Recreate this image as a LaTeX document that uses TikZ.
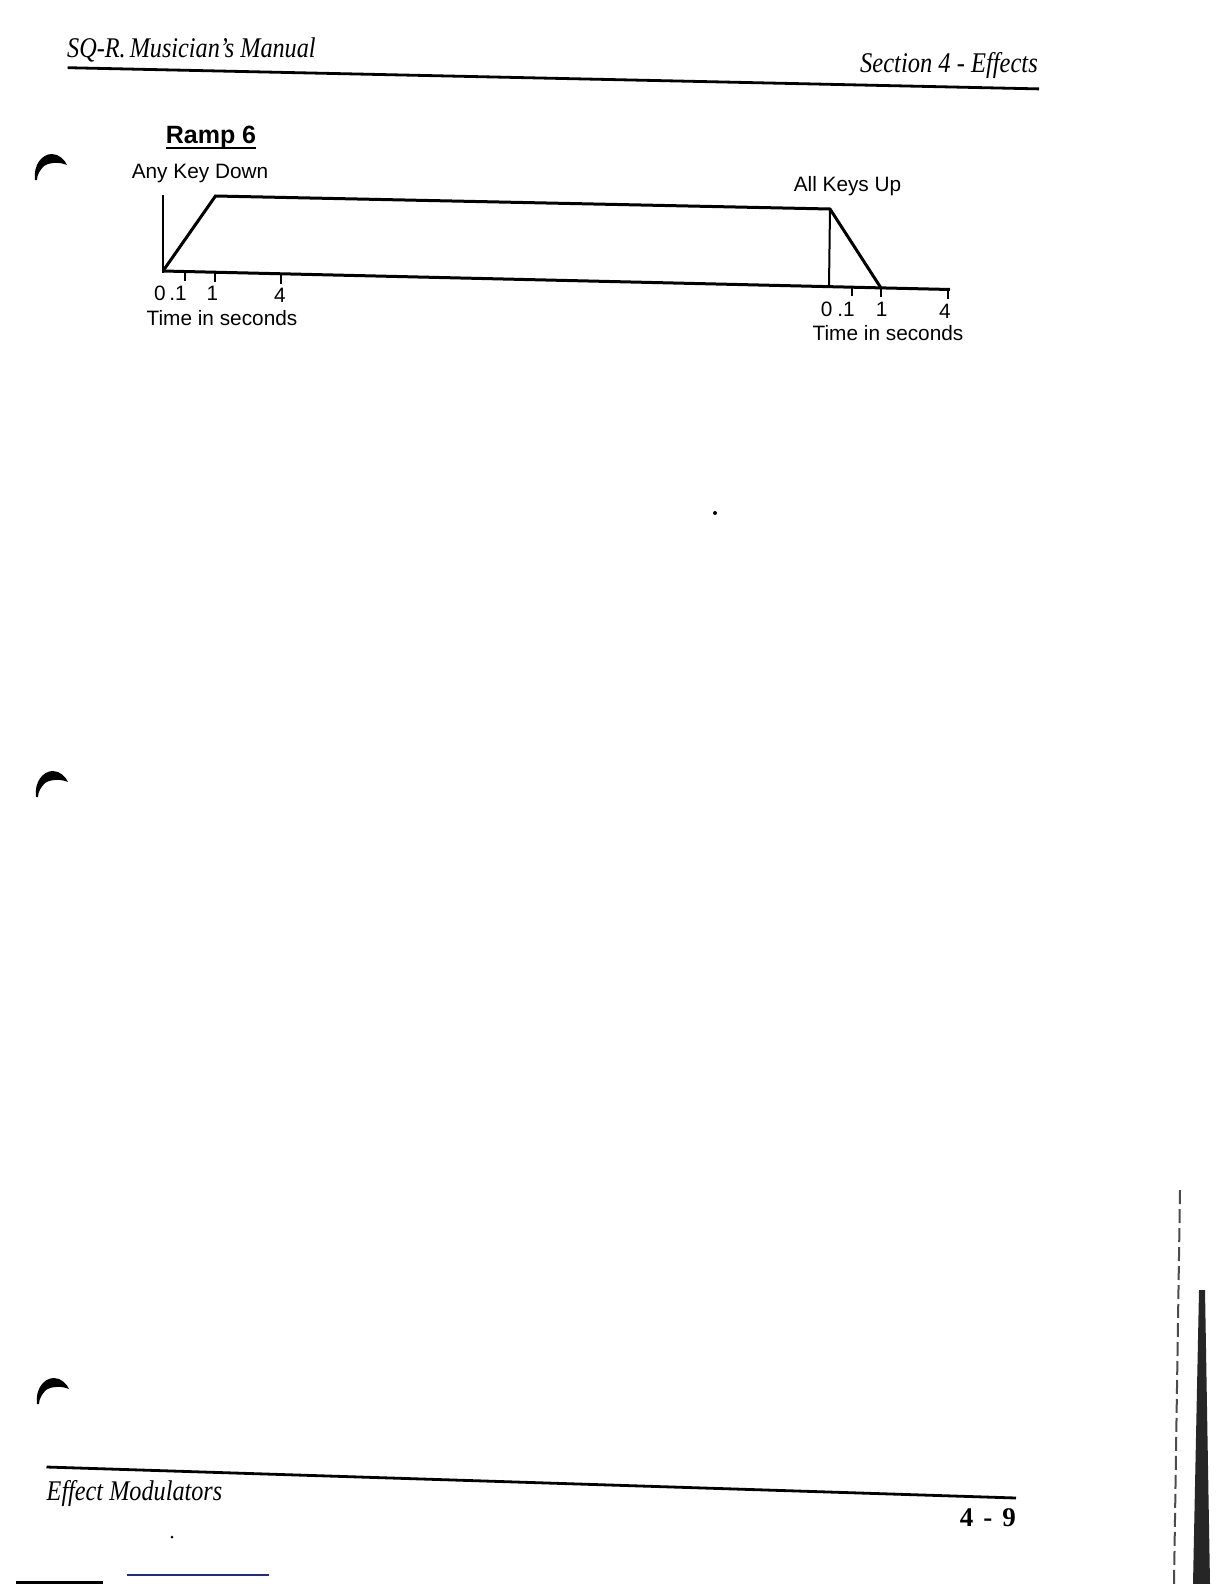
\documentclass[tikz,border=0pt]{standalone}
\usepackage{fontspec}
\setmainfont{Liberation Serif}
\newfontfamily\diagfont{Liberation Sans}
\definecolor{scanblue}{RGB}{35,40,140}
\begin{document}
\begin{tikzpicture}[x=1pt,y=-1pt,
  curve/.style={line width=3pt, line join=miter, line cap=butt},
  vline/.style={line width=2pt},
  tickmark/.style={line width=2pt},
  rule/.style={line width=2.8pt},
  lbl/.style={font=\diagfont\fontsize{20.8}{24}\selectfont, anchor=base, inner sep=0pt},
  hdr/.style={font=\fontsize{28.5}{32}\selectfont\itshape, anchor=base west, inner sep=0pt},
  crescent/.pic={\fill[black] (0,0) .. controls (-2,-15) and (7,-26) .. (17,-26)
      .. controls (24,-26) and (30,-20) .. (32,-15)
      .. controls (25,-18) and (15,-18) .. (9,-14)
      .. controls (5,-10) and (2,-5) .. (2,0) -- cycle;}]
\useasboundingbox (0,0) rectangle (1224,1584);
\fill[white] (0,0) rectangle (1224,1584);

% header
\node[hdr] (title) at (67,57.6) {\scalebox{0.85}[1]{SQ-R.\,Musician's Manual}};
\node[hdr, anchor=base east] (section) at (1038,73) {\scalebox{0.86}[1]{Section 4 - Effects}};
\coordinate (hl1) at (67.7,67.7);
\coordinate (hl2) at (1039,88.9);
\draw[rule] (hl1) -- (hl2);

% footer
\coordinate (fl1) at (46.5,1467);
\coordinate (fl2) at (1016,1498);
\draw[rule] (fl1) -- (fl2);
\node[hdr] (foot) at (46.5,1500) {\scalebox{0.85}[1]{Effect Modulators}};
\node[anchor=base east, inner sep=0pt, font=\bfseries\fontsize{27}{30}\selectfont] (page) at (1016,1526) {4\hspace{10pt}-\hspace{10pt}9};

% diagram title
\node[lbl, font=\diagfont\bfseries\fontsize{25}{28}\selectfont] (ramp) at (211,143.3) {Ramp 6};
\draw[line width=2pt] ([yshift=-4.5pt]ramp.base west) -- ([yshift=-4.5pt]ramp.base east);
\node[lbl] (anykey) at (200,178.3) {Any Key Down};
\node[lbl] (allkeys) at (847.5,191.7) {All Keys Up};

% envelope
\coordinate (o1) at (163,271);
\coordinate (vtop) at (163,195);
\coordinate (peak) at (215.5,196);
\coordinate (rel) at (830,209);
\coordinate (rbase) at (829,286.7);
\coordinate (rend) at (881,288);
\coordinate (bend) at (950,289.5);
\draw[curve] (o1) -- (bend);
\draw[vline] (vtop) -- ([yshift=-2pt]o1);
\draw[vline] (rel) -- (rbase);
\draw[curve] (o1) -- (peak) -- (rel) -- (rend);

% ticks
\foreach \n/\tx/\ty/\tl in {a/185/271.5/9, b/215/272.2/10, c/281/273.8/10,
                             d/851.5/287.2/9, e/881/287.9/9, f/947.5/289.4/10}{
  \coordinate (tk\n) at (\tx,\ty);
  \draw[tickmark] (tk\n) -- ++(0,\tl);
}

% axis labels
\node[lbl] (l0) at (160,300) {0};
\node[lbl] (l01) at (178,300) {.1};
\node[lbl] (l1) at (212.3,300.7) {1};
\node[lbl] (l4) at (280,302.7) {4};
\node[lbl] (lt) at (222,325) {Time in seconds};
\node[lbl] (r0) at (826.7,316.7) {0};
\node[lbl] (r01) at (846,316.7) {.1};
\node[lbl] (r1) at (881.7,316.7) {1};
\node[lbl] (r4) at (945,318) {4};
\node[lbl] (rt) at (888,340) {Time in seconds};

% binder hole marks
\pic (cr1) at (35,180) {crescent};
\pic (cr2) at (36,797) {crescent};
\pic (cr3) at (37,1404) {crescent};

% scan artefacts
\fill[black!85] (1199,1290) -- (1205,1290) -- (1210,1584) -- (1193,1584) -- cycle;
\draw[black!70, line width=2pt, dash pattern=on 14pt off 5pt] (1180,1190) -- (1174,1584);
\draw[black, line width=3pt] (16,1582) -- (103,1582);
\draw[scanblue, line width=1.5pt] (127,1575) -- (269,1575);
\fill[black] (715,513) circle (2);
\fill[black] (172,1537) circle (1.5);
\end{tikzpicture}
\end{document}
